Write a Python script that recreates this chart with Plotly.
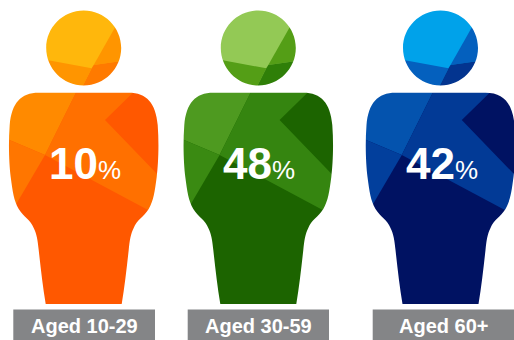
import plotly.graph_objects as go

# Survey breakdown by age band
age_labels = ["Aged 10-29", "Aged 30-59", "Aged 60+"]
shares = [10, 48, 42]

# Horizontal centre of each figure and extent of its caption bar
centres = [83.7, 258.3, 440.5]
caption_left = [13.3, 187.7, 372.7]
caption_right = [155, 329, 514]

# Colour ramps: head light / mid / dark, body light / mid / side / base
ramps = [
    dict(hl="#FFB70C", hm="#FF9500", hd="#FF7A00", bl="#FF8A00", bm="#FF7000", bs="#FF7600", base="#FF5800"),
    dict(hl="#93C955", hm="#549E16", hd="#2F7F08", bl="#4E9A20", bm="#358510", bs="#3A8A12", base="#1C6400"),
    dict(hl="#00A2EA", hm="#0460BE", hd="#03348F", bl="#0453AE", bm="#023A96", bs="#023F9C", base="#001262"),
]

CAPTION_GREY = "#848587"
HEAD_Y, HEAD_R = 48, 37.5

# Faceted regions, given as offsets from the figure centre
UPPER_LEFT = [(-6.4, 90), (-38.7, 155), (-85, 135.5), (-85, 90)]
SIDE_LEFT = [(-85, 135.5), (-38.7, 155), (-85, 234)]
CENTRE_BAND = [(-6.4, 90), (52, 90), (21.3, 120), (85, 186), (85, 221), (-38.7, 155)]
HEAD_LOWER = [(-45, 58.5), (8, 68.3), (-3, 90), (-45, 90)]
HEAD_RIGHT = [(31.4, 27.3), (45, 27.3), (45, 60), (10, 65)]
HEAD_DARK = [(10, 65), (45, 60), (45, 90), (-3, 90), (8, 68.3)]

# Right half of the torso outline, as cubic segments running from the top
# centre down to the hem; the left half is its mirror image
TORSO_RIGHT = [
    ((45, 92.7), (45, 92.7), (45, 92.7)),
    ((63, 92.7), (72, 103), (74, 125)),
    ((75.5, 145), (74.5, 165), (73, 177)),
    ((71, 192), (70, 200), (65, 209)),
    ((60, 217), (53, 220), (50, 228)),
    ((47, 234), (46, 240), (45, 250)),
    ((43, 268), (41, 286), (38, 304)),
]


def poly_path(cx, pts):
    return "M " + " L ".join(f"{cx + x:.2f},{y:.2f}" for x, y in pts) + " Z"


def torso_path(cx):
    d = f"M {cx:.2f},92.7 L {cx + 45:.2f},92.7 "
    for seg in TORSO_RIGHT[1:]:
        d += "C " + " ".join(f"{cx + x:.2f},{y:.2f}" for x, y in seg) + " "
    d += f"L {cx - 38:.2f},304 "
    points = [(45, 92.7)] + [seg[2] for seg in TORSO_RIGHT[1:]]
    for i in range(len(TORSO_RIGHT) - 1, 0, -1):
        c1, c2, _ = TORSO_RIGHT[i]
        end = points[i - 1]
        d += (f"C {cx - c2[0]:.2f},{c2[1]:.2f} {cx - c1[0]:.2f},{c1[1]:.2f} "
              f"{cx - end[0]:.2f},{end[1]:.2f} ")
    return d + "Z"


def head_path(cx):
    k = 0.5523 * HEAD_R
    r = HEAD_R
    y = HEAD_Y
    return (f"M {cx + r:.2f},{y} "
            f"C {cx + r:.2f},{y + k:.2f} {cx + k:.2f},{y + r:.2f} {cx:.2f},{y + r:.2f} "
            f"C {cx - k:.2f},{y + r:.2f} {cx - r:.2f},{y + k:.2f} {cx - r:.2f},{y} "
            f"C {cx - r:.2f},{y - k:.2f} {cx - k:.2f},{y - r:.2f} {cx:.2f},{y - r:.2f} "
            f"C {cx + k:.2f},{y - r:.2f} {cx + r:.2f},{y - k:.2f} {cx + r:.2f},{y} Z")


def rect_path(x0, y0, x1, y1):
    return f"M {x0},{y0} L {x1},{y0} L {x1},{y1} L {x0},{y1} Z"


def filled(path, colour):
    return dict(type="path", path=path, fillcolor=colour, line_width=0,
                xref="x", yref="y", layer="above")


shapes = []
annotations = []
for cx, ramp, label, share, left, right in zip(
        centres, ramps, age_labels, shares, caption_left, caption_right):
    # Rectangular colour fields for the figure
    shapes.append(filled(rect_path(cx - 85, 90, cx + 85, 306), ramp["base"]))
    shapes.append(filled(poly_path(cx, UPPER_LEFT), ramp["bl"]))
    shapes.append(filled(poly_path(cx, SIDE_LEFT), ramp["bs"]))
    shapes.append(filled(poly_path(cx, CENTRE_BAND), ramp["bm"]))
    shapes.append(filled(rect_path(cx - 45, 5, cx + 45, 90), ramp["hl"]))
    shapes.append(filled(poly_path(cx, HEAD_LOWER), ramp["hm"]))
    shapes.append(filled(poly_path(cx, HEAD_RIGHT), ramp["hm"]))
    shapes.append(filled(poly_path(cx, HEAD_DARK), ramp["hd"]))

    # White stencil with the silhouette cut out (even-odd fill)
    stencil = rect_path(cx - 88, 0, cx + 88, 306) + " " + torso_path(cx) + " " + head_path(cx)
    shapes.append(dict(type="path", path=stencil, fillcolor="white", line_width=0,
                       fillrule="evenodd", xref="x", yref="y", layer="above"))

    # Caption bar
    shapes.append(filled(rect_path(left, 309.5, right, 340), CAPTION_GREY))

    annotations.append(dict(
        x=(left + right) / 2, y=326, xref="x", yref="y", showarrow=False,
        text=f"<b>{label}</b>", yanchor="middle",
        font=dict(family="Liberation Sans", size=20, color="white")))
    annotations.append(dict(
        x=cx + 1, y=163, xref="x", yref="y", showarrow=False, yanchor="middle",
        text=f"<b>{share}</b><span style='font-size:26px'>%</span>",
        font=dict(family="Liberation Sans", size=44, color="white")))

fig = go.Figure()
fig.update_layout(
    width=514, height=340, margin=dict(l=0, r=0, t=0, b=0),
    paper_bgcolor="white", plot_bgcolor="white", showlegend=False,
    xaxis=dict(range=[0, 514], visible=False, fixedrange=True),
    yaxis=dict(range=[340, 0], visible=False, fixedrange=True),
    shapes=shapes, annotations=annotations,
)
fig.write_html("out.html", config=dict(displayModeBar=False))
